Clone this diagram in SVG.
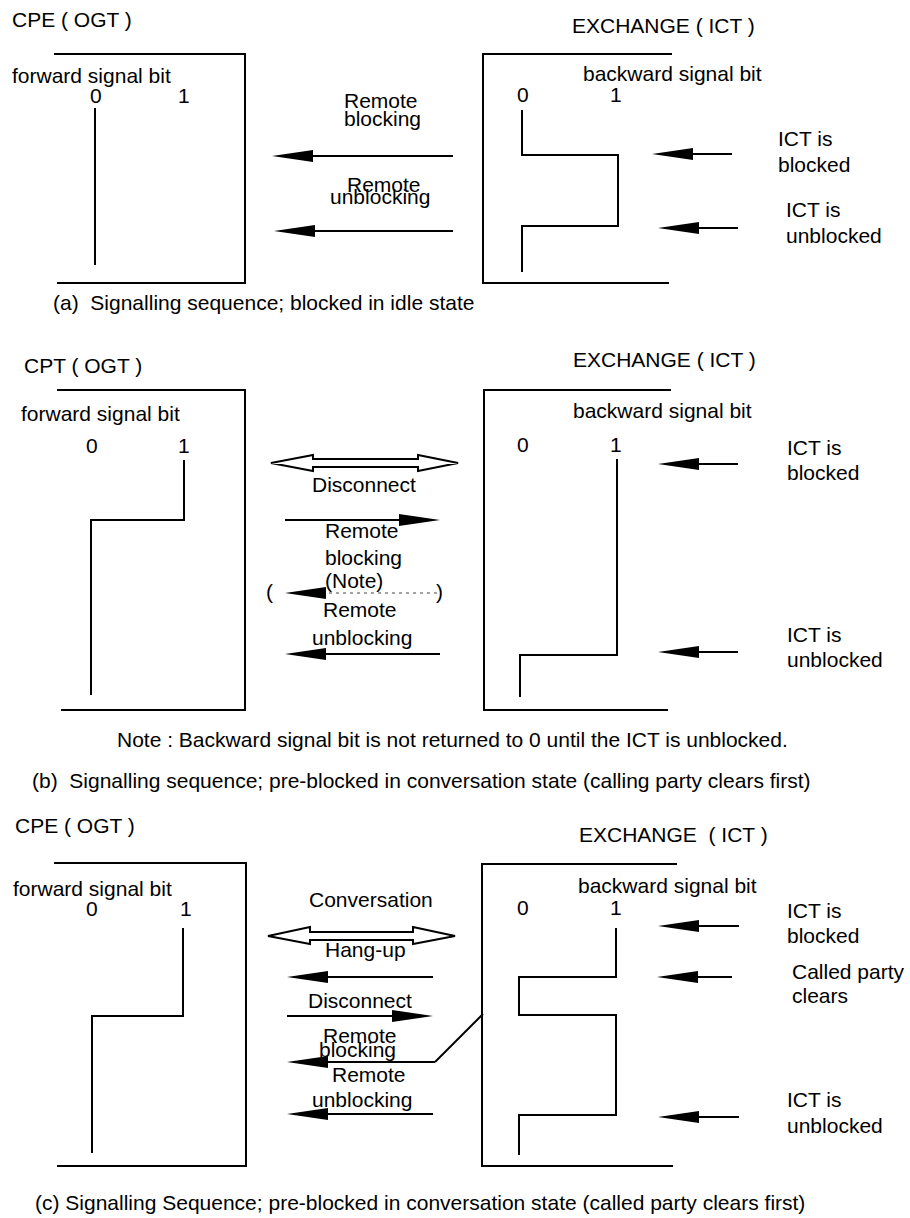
<svg xmlns="http://www.w3.org/2000/svg" width="910" height="1218" viewBox="0 0 910 1218">
<style>
.t{font-family:"Liberation Sans",Arial,sans-serif;font-size:21px;fill:#000;white-space:pre}
.ln{stroke:#000;stroke-width:2;fill:none}
.ar{stroke:#000;stroke-width:2;fill:none;marker-end:url(#ah)}
.dash{stroke:#444;stroke-width:1;stroke-dasharray:3,4;fill:none;marker-end:url(#ah)}
.hol{fill:#fff;stroke:#000;stroke-width:2;stroke-linejoin:miter}
</style>
<defs>
<marker id="ah" markerUnits="userSpaceOnUse" markerWidth="42" markerHeight="14" refX="0" refY="7" orient="auto" overflow="visible">
<path d="M0,1 L41,7 L0,13 z" fill="#000"/>
</marker>
</defs>
<rect width="910" height="1218" fill="#fff"/>

<!-- Section (a) -->
<g id="a-ogt">
<text class="t" x="12" y="27">CPE ( OGT )</text>
<path class="ln" d="M54,54 H245 V283 H57"/>
<text class="t" x="12" y="83">forward signal bit</text>
<text class="t" x="90" y="103">0</text>
<text class="t" x="178" y="103">1</text>
<path class="ln" d="M95,108 V265"/>
</g>
<g id="a-ict">
<text class="t" x="572" y="33">EXCHANGE ( ICT )</text>
<path class="ln" d="M672,54 H483 V283 H669"/>
<text class="t" x="583" y="81">backward signal bit</text>
<text class="t" x="517" y="102">0</text>
<text class="t" x="610" y="102">1</text>
<path class="ln" d="M522,110 V155 H618 V226 H522 V272"/>
</g>
<g id="a-labels">
<text class="t" x="344" y="108">Remote</text>
<text class="t" x="344" y="126">blocking</text>
<text class="t" x="347" y="192">Remote</text>
<text class="t" x="330" y="204">unblocking</text>
<text class="t" x="778" y="146">ICT is</text>
<text class="t" x="778" y="172">blocked</text>
<text class="t" x="786" y="217">ICT is</text>
<text class="t" x="786" y="243">unblocked</text>
<text class="t" x="53" y="310">(a)  Signalling sequence; blocked in idle state</text>
</g>
<g id="a-connectors">
<path class="ar" d="M453,156 H313"/>
<path class="ar" d="M453,231 H315"/>
<path class="ar" d="M732,154 H693"/>
<path class="ar" d="M738,228 H699"/>
</g>

<!-- Section (b) -->
<g id="b-ogt">
<text class="t" x="24" y="373">CPT ( OGT )</text>
<path class="ln" d="M57,390 H245 V710 H61"/>
<text class="t" x="21" y="421">forward signal bit</text>
<text class="t" x="86" y="453">0</text>
<text class="t" x="178" y="453">1</text>
<path class="ln" d="M184,460 V520 H91 V695"/>
</g>
<g id="b-ict">
<text class="t" x="573" y="367">EXCHANGE ( ICT )</text>
<path class="ln" d="M671,390 H484 V710 H668"/>
<text class="t" x="573" y="418">backward signal bit</text>
<text class="t" x="517" y="452">0</text>
<text class="t" x="610" y="452">1</text>
<path class="ln" d="M617,459 V655 H520 V697"/>
</g>
<g id="b-labels">
<text class="t" x="312" y="492">Disconnect</text>
<text class="t" x="325" y="538">Remote</text>
<text class="t" x="325" y="565">blocking</text>
<text class="t" x="325" y="588">(Note)</text>
<text class="t" x="266" y="599">(</text>
<text class="t" x="436" y="599">)</text>
<text class="t" x="323" y="617">Remote</text>
<text class="t" x="312" y="645">unblocking</text>
<text class="t" x="787" y="455">ICT is</text>
<text class="t" x="787" y="480">blocked</text>
<text class="t" x="787" y="642">ICT is</text>
<text class="t" x="787" y="667">unblocked</text>
<text class="t" x="117" y="747">Note : Backward signal bit is not returned to 0 until the ICT is unblocked.</text>
<text class="t" x="32" y="788">(b)  Signalling sequence; pre-blocked in conversation state (calling party clears first)</text>
</g>
<g id="b-connectors">
<path class="hol" d="M271,463 L313,455 V459 H418 V455 L458,463 L418,471 V467 H313 V471 Z"/>
<path class="ar" d="M285,520 H399"/>
<path class="dash" d="M437,593 H326"/>
<path class="ar" d="M440,654 H326"/>
<path class="ar" d="M738,464 H699"/>
<path class="ar" d="M738,652 H699"/>
</g>

<!-- Section (c) -->
<g id="c-ogt">
<text class="t" x="15" y="833">CPE ( OGT )</text>
<path class="ln" d="M54,863 H246 V1166 H57"/>
<text class="t" x="13" y="896">forward signal bit</text>
<text class="t" x="86" y="916">0</text>
<text class="t" x="180" y="916">1</text>
<path class="ln" d="M183,928 V1016 H92 V1153"/>
</g>
<g id="c-ict">
<text class="t" x="579" y="842">EXCHANGE  ( ICT )</text>
<path class="ln" d="M677,864 H482 V1166 H673"/>
<text class="t" x="578" y="893">backward signal bit</text>
<text class="t" x="517" y="915">0</text>
<text class="t" x="610" y="915">1</text>
<path class="ln" d="M616,928 V977 H519 V1015 H616 V1115 H519 V1155"/>
</g>
<g id="c-labels">
<text class="t" x="309" y="907">Conversation</text>
<text class="t" x="325" y="957">Hang-up</text>
<text class="t" x="308" y="1008">Disconnect</text>
<text class="t" x="323" y="1043">Remote</text>
<text class="t" x="319" y="1057">blocking</text>
<text class="t" x="332" y="1082">Remote</text>
<text class="t" x="312" y="1107">unblocking</text>
<text class="t" x="787" y="918">ICT is</text>
<text class="t" x="787" y="943">blocked</text>
<text class="t" x="792" y="979">Called party</text>
<text class="t" x="792" y="1003">clears</text>
<text class="t" x="787" y="1107">ICT is</text>
<text class="t" x="787" y="1133">unblocked</text>
<text class="t" x="35" y="1210">(c) Signalling Sequence; pre-blocked in conversation state (called party clears first)</text>
</g>
<g id="c-connectors">
<path class="hol" d="M268,936 L310,927 V932 H413 V927 L455,936 L413,944 V940 H310 V944 Z"/>
<path class="ar" d="M433,977 H328"/>
<path class="ar" d="M287,1016 H392"/>
<path class="ar" d="M435,1062 H328"/>
<path class="ln" d="M435,1062 L483,1014"/>
<path class="ar" d="M433,1114 H328"/>
<path class="ar" d="M739,926 H699"/>
<path class="ar" d="M732,977 H698"/>
<path class="ar" d="M739,1117 H699"/>
</g>
</svg>
